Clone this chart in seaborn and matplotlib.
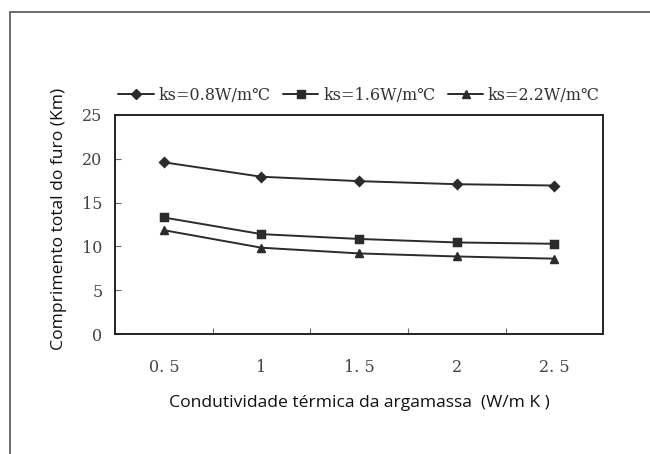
import matplotlib
matplotlib.use("Agg")
import matplotlib.pyplot as plt
from matplotlib.lines import Line2D
from matplotlib.ticker import FixedLocator
import seaborn as sns
import pandas as pd

categories = ["0. 5", "1", "1. 5", "2", "2. 5"]
series_names = ["ks=0.8W/m\u2103", "ks=1.6W/m\u2103", "ks=2.2W/m\u2103"]
ks08 = [19.6, 17.95, 17.45, 17.1, 16.95]
ks16 = [13.3, 11.4, 10.85, 10.45, 10.3]
ks22 = [11.85, 9.85, 9.2, 8.85, 8.6]
y_ticks = [0, 5, 10, 15, 20, 25]

rows = []
for name, vals in zip(series_names, [ks08, ks16, ks22]):
    for c, v in zip(categories, vals):
        rows.append({"cond": c, "comp": v, "serie": name})
df = pd.DataFrame(rows)

sns.set_theme(style="white")
plt.rcParams["font.family"] = ["DejaVu Sans"]

fig = plt.figure(figsize=(6.5, 4.54), dpi=100)
ax = fig.add_axes([0.177, 0.2643, 0.751, 0.4824])

ink = "#2b2b2b"
sns.pointplot(data=df, x="cond", y="comp", hue="serie", order=categories,
              hue_order=series_names, palette=[ink, ink, ink],
              markers=["D", "s", "^"], linestyles=["-", "-", "-"],
              errorbar=None, ax=ax, legend=False,
              markersize=5.5, linewidth=1.4)

ax.set_xlim(-0.5, 4.5)
ax.set_ylim(0, 25)
ax.set_yticks(y_ticks)
ax.xaxis.set_minor_locator(FixedLocator([0.5, 1.5, 2.5, 3.5]))
ax.tick_params(axis="x", which="major", length=0, pad=18)
ax.tick_params(axis="x", which="minor", length=4, direction="in", width=0.8, color="#666666", bottom=True)
ax.tick_params(axis="y", which="major", length=4, direction="in", width=0.8, color="#666666", left=True, pad=9)
for lab in ax.get_xticklabels() + ax.get_yticklabels():
    lab.set_fontfamily("DejaVu Serif")
    lab.set_fontsize(11.5)
    lab.set_color("#444444")
for s in ax.spines.values():
    s.set_color("#222222")
    s.set_linewidth(1.4)

ax.set_xlabel("Condutividade térmica da argamassa  (W/m K )", fontsize=12.6,
              family=["Open Sans", "DejaVu Sans"], color="#111111", labelpad=14)
ax.set_ylabel("Comprimento total do furo (Km)", fontsize=12.6,
              family=["Open Sans", "DejaVu Sans"], color="#111111")
ax.yaxis.set_label_coords(-0.098, 0.525)

handles = [Line2D([], [], color=ink, marker=m, markersize=ms, linewidth=1.4)
           for m, ms in zip(["D", "s", "^"], [5, 5.5, 6])]
leg = ax.legend(handles, series_names, ncol=3, loc="lower center",
                bbox_to_anchor=(0.5, 0.985), frameon=False, handlelength=2.2,
                handletextpad=0.3, columnspacing=0.8,
                prop={"family": ["DejaVu Serif"], "size": 11.5})
for t in leg.get_texts():
    t.set_color("#333333")

# outer frame of the scanned figure
fig.add_artist(Line2D([0.0154, 1.0], [0.9736, 0.9736], transform=fig.transFigure,
                      color="#555555", linewidth=1.2))
fig.add_artist(Line2D([0.0154, 0.0154], [0.0, 0.9736], transform=fig.transFigure,
                      color="#555555", linewidth=1.2))

fig.savefig("out.png", dpi=100)
